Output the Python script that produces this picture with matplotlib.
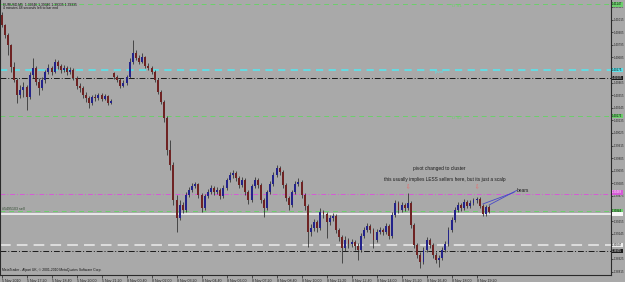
import numpy as np
import matplotlib.pyplot as plt
from matplotlib import transforms

plt.rcParams['font.family'] = ['Liberation Sans', 'DejaVu Sans']

# EURUSD candles (one candle ~ 10 min)
opens = [
    1.41055, 1.40968, 1.40880, 1.40793, 1.40601, 1.40488, 1.40357, 1.40400, 1.40427, 1.40339,
    1.40531, 1.40592, 1.40470, 1.40418, 1.40488, 1.40557, 1.40592, 1.40557, 1.40645, 1.40610,
    1.40575, 1.40592, 1.40557, 1.40575, 1.40505, 1.40435, 1.40418, 1.40357, 1.40331, 1.40287,
    1.40339, 1.40331, 1.40357, 1.40322, 1.40348, 1.40287, 1.40549, 1.40514, 1.40488, 1.40435,
    1.40461, 1.40514, 1.40645, 1.40723, 1.40680, 1.40645, 1.40688, 1.40610, 1.40592, 1.40557,
    1.40488, 1.40383, 1.40296, 1.40156, 1.39876, 1.39746, 1.39440, 1.39283, 1.39396, 1.39353,
    1.39484, 1.39527, 1.39562, 1.39580, 1.39484, 1.39370, 1.39475, 1.39510, 1.39545, 1.39510,
    1.39527, 1.39475, 1.39545, 1.39615, 1.39658, 1.39676, 1.39632, 1.39571, 1.39615, 1.39510,
    1.39440, 1.39562, 1.39615, 1.39571, 1.39440, 1.39370, 1.39510, 1.39580, 1.39658, 1.39719,
    1.39684, 1.39571, 1.39457, 1.39396, 1.39510, 1.39580, 1.39597, 1.39484, 1.39388, 1.39161,
    1.39196, 1.39248, 1.39196, 1.39335, 1.39318, 1.39248, 1.39283, 1.39300, 1.39178, 1.39117,
    1.39021, 1.39091, 1.39056, 1.39073, 1.39038, 1.39003, 1.39126, 1.39178, 1.39213, 1.39178,
    1.39091, 1.39161, 1.39178, 1.39161, 1.39213, 1.39126, 1.39309, 1.39413, 1.39353, 1.39396,
    1.39370, 1.39413, 1.39222, 1.39047, 1.38960, 1.38899, 1.39003, 1.39091, 1.39047, 1.38960,
    1.38916, 1.38934, 1.39003, 1.39056, 1.39178, 1.39265, 1.39353, 1.39396, 1.39370, 1.39422,
    1.39388, 1.39413, 1.39440, 1.39449, 1.39388, 1.39318, 1.39379,
]
highs = [
    1.41081, 1.40976, 1.40898, 1.40802, 1.40645, 1.40505, 1.40444, 1.40470, 1.40444, 1.40557,
    1.40680, 1.40610, 1.40505, 1.40514, 1.40575, 1.40627, 1.40610, 1.40671, 1.40662, 1.40627,
    1.40619, 1.40610, 1.40601, 1.40592, 1.40523, 1.40461, 1.40435, 1.40383, 1.40348, 1.40357,
    1.40365, 1.40374, 1.40374, 1.40365, 1.40357, 1.40322, 1.40557, 1.40531, 1.40505, 1.40488,
    1.40531, 1.40680, 1.40837, 1.40750, 1.40706, 1.40723, 1.40697, 1.40636, 1.40610, 1.40575,
    1.40505, 1.40400, 1.40313, 1.40173, 1.39964, 1.39772, 1.39484, 1.39440, 1.39422, 1.39510,
    1.39553, 1.39588, 1.39597, 1.39588, 1.39501, 1.39492, 1.39536, 1.39571, 1.39562, 1.39553,
    1.39545, 1.39571, 1.39632, 1.39684, 1.39702, 1.39693, 1.39650, 1.39641, 1.39632, 1.39527,
    1.39580, 1.39641, 1.39632, 1.39588, 1.39457, 1.39527, 1.39606, 1.39684, 1.39746, 1.39737,
    1.39702, 1.39588, 1.39475, 1.39527, 1.39606, 1.39632, 1.39615, 1.39501, 1.39405, 1.39230,
    1.39274, 1.39265, 1.39370, 1.39353, 1.39335, 1.39309, 1.39326, 1.39318, 1.39196, 1.39134,
    1.39126, 1.39108, 1.39099, 1.39091, 1.39065, 1.39152, 1.39204, 1.39239, 1.39230, 1.39196,
    1.39187, 1.39204, 1.39196, 1.39239, 1.39230, 1.39335, 1.39440, 1.39431, 1.39422, 1.39413,
    1.39501, 1.39431, 1.39239, 1.39065, 1.38986, 1.39030, 1.39117, 1.39108, 1.39065, 1.38986,
    1.38960, 1.39030, 1.39082, 1.39204, 1.39292, 1.39379, 1.39422, 1.39413, 1.39449, 1.39440,
    1.39440, 1.39457, 1.39466, 1.39466, 1.39405, 1.39396, 1.39396,
]
lows = [
    1.40950, 1.40854, 1.40706, 1.40557, 1.40470, 1.40287, 1.40331, 1.40339, 1.40226, 1.40322,
    1.40505, 1.40444, 1.40357, 1.40400, 1.40461, 1.40540, 1.40531, 1.40549, 1.40584, 1.40549,
    1.40557, 1.40531, 1.40540, 1.40488, 1.40409, 1.40383, 1.40331, 1.40296, 1.40243, 1.40269,
    1.40304, 1.40313, 1.40304, 1.40313, 1.40269, 1.40278, 1.40496, 1.40470, 1.40418, 1.40427,
    1.40444, 1.40505, 1.40627, 1.40662, 1.40627, 1.40636, 1.40592, 1.40575, 1.40540, 1.40470,
    1.40365, 1.40278, 1.40121, 1.39833, 1.39702, 1.39396, 1.39161, 1.39265, 1.39326, 1.39335,
    1.39466, 1.39510, 1.39545, 1.39457, 1.39335, 1.39353, 1.39457, 1.39492, 1.39484, 1.39492,
    1.39449, 1.39457, 1.39527, 1.39597, 1.39632, 1.39606, 1.39545, 1.39553, 1.39484, 1.39405,
    1.39422, 1.39545, 1.39545, 1.39413, 1.39292, 1.39353, 1.39492, 1.39562, 1.39641, 1.39658,
    1.39545, 1.39431, 1.39353, 1.39379, 1.39492, 1.39562, 1.39457, 1.39353, 1.39030, 1.39126,
    1.39169, 1.39161, 1.39178, 1.39283, 1.39108, 1.39222, 1.39257, 1.39152, 1.39082, 1.38890,
    1.38995, 1.39021, 1.39030, 1.39003, 1.38916, 1.38986, 1.39108, 1.39161, 1.39152, 1.39021,
    1.39073, 1.39143, 1.39134, 1.39143, 1.39099, 1.39108, 1.39292, 1.39326, 1.39335, 1.39344,
    1.39353, 1.39196, 1.39021, 1.38934, 1.38846, 1.38881, 1.38986, 1.39021, 1.38934, 1.38890,
    1.38855, 1.38916, 1.38986, 1.39038, 1.39161, 1.39248, 1.39335, 1.39344, 1.39353, 1.39370,
    1.39370, 1.39396, 1.39413, 1.39370, 1.39300, 1.39300, 1.39326,
]
closes = [
    1.40968, 1.40880, 1.40793, 1.40601, 1.40488, 1.40357, 1.40400, 1.40427, 1.40339, 1.40531,
    1.40592, 1.40470, 1.40418, 1.40488, 1.40557, 1.40592, 1.40557, 1.40645, 1.40610, 1.40575,
    1.40592, 1.40557, 1.40575, 1.40505, 1.40435, 1.40418, 1.40357, 1.40331, 1.40287, 1.40339,
    1.40331, 1.40357, 1.40322, 1.40348, 1.40287, 1.40304, 1.40514, 1.40488, 1.40435, 1.40461,
    1.40514, 1.40645, 1.40723, 1.40680, 1.40645, 1.40688, 1.40610, 1.40592, 1.40557, 1.40488,
    1.40383, 1.40296, 1.40156, 1.39876, 1.39746, 1.39440, 1.39283, 1.39396, 1.39353, 1.39484,
    1.39527, 1.39562, 1.39580, 1.39484, 1.39370, 1.39475, 1.39510, 1.39545, 1.39510, 1.39527,
    1.39475, 1.39545, 1.39615, 1.39658, 1.39676, 1.39632, 1.39571, 1.39615, 1.39510, 1.39440,
    1.39562, 1.39615, 1.39571, 1.39440, 1.39370, 1.39510, 1.39580, 1.39658, 1.39719, 1.39684,
    1.39571, 1.39457, 1.39396, 1.39510, 1.39580, 1.39597, 1.39484, 1.39388, 1.39161, 1.39196,
    1.39248, 1.39196, 1.39335, 1.39318, 1.39248, 1.39283, 1.39300, 1.39178, 1.39117, 1.39021,
    1.39091, 1.39056, 1.39073, 1.39038, 1.39003, 1.39126, 1.39178, 1.39213, 1.39178, 1.39091,
    1.39161, 1.39178, 1.39161, 1.39213, 1.39126, 1.39309, 1.39413, 1.39353, 1.39396, 1.39370,
    1.39413, 1.39222, 1.39047, 1.38960, 1.38899, 1.39003, 1.39091, 1.39047, 1.38960, 1.38916,
    1.38934, 1.39003, 1.39056, 1.39178, 1.39265, 1.39353, 1.39396, 1.39370, 1.39422, 1.39388,
    1.39413, 1.39440, 1.39449, 1.39388, 1.39318, 1.39379, 1.39335,
]

time_labels = [
    '5 Nov 2010', '5 Nov 17:20', '5 Nov 18:40', '5 Nov 20:00', '5 Nov 21:20',
    '8 Nov 00:40', '8 Nov 02:00', '8 Nov 03:20', '8 Nov 04:40', '8 Nov 06:00',
    '8 Nov 07:20', '8 Nov 08:40', '8 Nov 10:00', '8 Nov 11:20', '8 Nov 12:40',
    '8 Nov 14:00', '8 Nov 15:20', '8 Nov 16:40', '8 Nov 18:00', '8 Nov 19:20',
]
BARS_PER_LABEL = 8

# scale labels; the ones hidden behind the coloured boxes are left out
price_ticks = [
    1.38815, 1.38925, 1.39145, 1.39255, 1.39475, 1.39585,
    1.39695, 1.39805, 1.39915, 1.40025, 1.40135, 1.40245, 1.40355, 1.40465,
    1.40685, 1.40795, 1.40905, 1.41015, 1.41125,
]

# horizontal lines: pivot levels, order line, bid, etc.
level_prices = [1.41147, 1.40575, 1.40505, 1.40173, 1.39488, 1.39344, 1.39318, 1.39047, 1.38995]
level_colors = ['#6ccf6c', '#5ee0e8', '#1a1a1a', '#6ccf6c', '#d65ad6', '#6ccf6c', '#f4f4f4', '#ececec', '#1a1a1a']
level_styles = [(0, (5, 4)), (0, (4, 3)), (0, (6, 2, 1, 2)), (0, (5, 4)), (0, (5, 2, 1, 2)),
                (0, (5, 4)), '-', (0, (7, 4)), (0, (6, 2, 1, 2))]
level_widths = [0.7, 1.3, 0.7, 0.7, 0.7, 0.7, 1.2, 1.1, 0.7]
level_text = ['black', 'black', 'white', 'black', 'white', 'black', 'white', 'black', 'white']
level_box_va = ['center', 'center', 'center', 'center', 'bottom', 'center', 'center', 'center', 'center']

BG = '#a9a9a9'
BULL = '#23238a'
BEAR = '#6e2323'
WICK = '#2b2b2b'

fig = plt.figure(figsize=(6.25, 2.82), dpi=100, facecolor=BG)
ax = fig.add_axes([0.0, 7 / 282, 611 / 625, 275 / 282], facecolor=BG)

o = np.array(opens)
h = np.array(highs)
l = np.array(lows)
c = np.array(closes)
x = np.arange(len(o))
up = c >= o

# level lines under the candles
for p, col, ls, lw in zip(level_prices, level_colors, level_styles, level_widths):
    ax.axhline(p, color=col, ls=ls, lw=lw, zorder=1)

ax.vlines(x, l, h, color=WICK, lw=0.55, zorder=2)
body = np.maximum(np.abs(c - o), 0.000015)
ax.bar(x, body, bottom=np.minimum(o, c), width=0.62,
       color=np.where(up, BULL, BEAR), edgecolor='none', zorder=3)

ax.set_xlim(-0.5, 195.0)
ax.set_ylim(1.38785, 1.41186)

# time axis
ax.set_xticks([BARS_PER_LABEL * i for i in range(len(time_labels))])
ax.set_xticklabels(time_labels, fontsize=2.6, color='#111111', ha='left')
ax.tick_params(axis='x', length=2, width=0.5, pad=0.6, colors='#222222')

# price axis on the right
ax.yaxis.tick_right()
ax.set_yticks(price_ticks)
ax.set_yticklabels([f'{v:.5f}' for v in price_ticks], fontsize=2.1, color='#111111')
ax.tick_params(axis='y', length=1.4, width=0.5, pad=0.4, colors='#222222')

ax.spines['top'].set_visible(False)
for side in ['left', 'right', 'bottom']:
    ax.spines[side].set_color('#2a2a2a')
    ax.spines[side].set_linewidth(0.8)

# coloured price boxes on the right scale
tr_y = transforms.blended_transform_factory(ax.transAxes, ax.transData)
for p, col, tcol, va in zip(level_prices, level_colors, level_text, level_box_va):
    ax.text(1.002, p, f'{p:.5f}', transform=tr_y, fontsize=2.0, color=tcol,
            ha='left', va=va, clip_on=False, zorder=10,
            bbox=dict(boxstyle='square,pad=0.15', fc=col, ec='none'))

# header / footer texts
ax.text(0.005, 0.992, 'EURUSD,M5  1.39346 1.39346 1.39335 1.39335', transform=ax.transAxes,
        fontsize=2.4, color='#111111', ha='left', va='top')
ax.text(0.005, 0.977, '4 minutes 48 seconds left to bar end', transform=ax.transAxes,
        fontsize=2.4, color='#111111', ha='left', va='top')
ax.text(0.004, 0.012, 'MetaTrader - Alpari UK, \u00a9 2001-2010 MetaQuotes Software Corp.',
        transform=ax.transAxes, fontsize=2.4, color='#111111', ha='left', va='bottom')

# pivot labels
ax.text(0.74, level_prices[0], 'D S1', transform=tr_y, fontsize=3.2, color='#6ccf6c',
        ha='left', va='top')
ax.text(0.712, level_prices[1], 'pivot', transform=tr_y, fontsize=3.2, color='#5ee0e8',
        ha='left', va='top')
ax.text(0.74, level_prices[3], 'D S2', transform=tr_y, fontsize=3.2, color='#6ccf6c',
        ha='left', va='top')
ax.text(0.004, level_prices[5], '#5495103 sell', transform=tr_y, fontsize=2.6,
        color='#2f4a2f', ha='left', va='bottom')

# trader's notes
ax.text(0.7185, 0.388, 'pivot changed to cluster', transform=ax.transAxes,
        fontsize=3.5, color='#1a1a1a', ha='center', va='center')
ax.text(0.7275, 0.348, 'this usually implies LESS sellers here, but its just a scalp',
        transform=ax.transAxes, fontsize=3.4, color='#1a1a1a', ha='center', va='center')

tr_x = transforms.blended_transform_factory(ax.transData, ax.transAxes)
for k in [130, 152]:
    ax.text(k, 0.319, '\u21e9', transform=tr_x, fontsize=4, color='#f06464',
            ha='center', va='center', family='DejaVu Sans')

for k in [154, 156]:
    ax.annotate('bears' if k == 154 else '', xy=(k, highs[k]), xytext=(0.846, 0.308),
                textcoords='axes fraction', fontsize=3.5, color='#1a1a1a',
                ha='left', va='center',
                arrowprops=dict(arrowstyle='-', color='#4848c8', lw=0.6,
                                shrinkA=0, shrinkB=0, relpos=(0, 0.3)))

plt.savefig('out.png', dpi=100, facecolor=BG)
